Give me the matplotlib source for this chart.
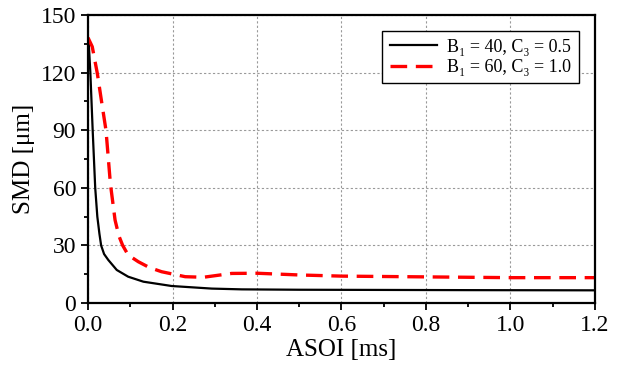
import matplotlib
matplotlib.use('Agg')
import matplotlib.pyplot as plt
from matplotlib.ticker import MultipleLocator

# SMD 随 ASOI 变化的两组数据
t_black = [0, 0.002, 0.0055, 0.011, 0.017, 0.022, 0.027, 0.031, 0.038, 0.048,
           0.068, 0.095, 0.131, 0.198, 0.293, 0.364, 0.5, 0.7, 0.9, 1.2]
smd_black = [138, 134, 120, 90, 60, 45, 36, 30, 25.5, 22.4,
             17.2, 13.7, 11.1, 8.85, 7.5, 7.1, 6.9, 6.8, 6.7, 6.6]

t_red = [0, 0.01, 0.022, 0.032, 0.0426, 0.053, 0.064, 0.073, 0.082, 0.095, 0.119,
         0.145, 0.174, 0.23, 0.273, 0.34, 0.4, 0.5, 0.6, 0.8, 1.0, 1.2]
smd_red = [138.2, 133.5, 119.6, 105, 89.8, 62, 43.2, 35, 30, 25, 21.5,
           18.5, 16.3, 13.7, 13.4, 15.4, 15.5, 14.6, 14, 13.6, 13.2, 13.2]

labels = ['B\u2081 = 40, C\u2083 = 0.5', 'B\u2081 = 60, C\u2083 = 1.0']

plt.rcParams['font.family'] = ['Liberation Serif', 'DejaVu Serif']

fig = plt.figure(figsize=(6.23, 3.67), dpi=100)
ax = fig.add_axes([0.1413, 0.1744, 0.8137, 0.7846])

ax.plot(t_black, smd_black, color='black', lw=1.6, label=labels[0])
ax.plot(t_red, smd_red, color='red', lw=2.4, dashes=(5, 2.6), label=labels[1])

ax.set_xlim(0, 1.2)
ax.set_ylim(0, 150)
ax.xaxis.set_major_locator(MultipleLocator(0.2))
ax.xaxis.set_minor_locator(MultipleLocator(0.1))
ax.yaxis.set_major_locator(MultipleLocator(30))
ax.yaxis.set_minor_locator(MultipleLocator(15))
ax.xaxis.set_major_formatter(plt.FuncFormatter(lambda v, p: '%.1f' % v))

ax.grid(True, which='major', color='#999999', ls=(0, (2, 2)), lw=0.8)
ax.tick_params(which='major', direction='out', length=5, width=1.3, labelsize=17)
ax.tick_params(which='minor', direction='out', length=3, width=1.3)
for s in ax.spines.values():
    s.set_linewidth(1.6)

ax.set_xlabel('ASOI [ms]', fontsize=18, labelpad=2)
ax.set_ylabel('SMD [\u03bcm]', fontsize=18, labelpad=4)

leg = ax.legend(loc='upper right', fontsize=13, frameon=True, fancybox=False,
                edgecolor='black', framealpha=1, handlelength=2.6,
                borderaxespad=0.9, handletextpad=0.6, labelspacing=0.2)
leg.get_frame().set_linewidth(1.0)

fig.savefig('out.png', dpi=100)
